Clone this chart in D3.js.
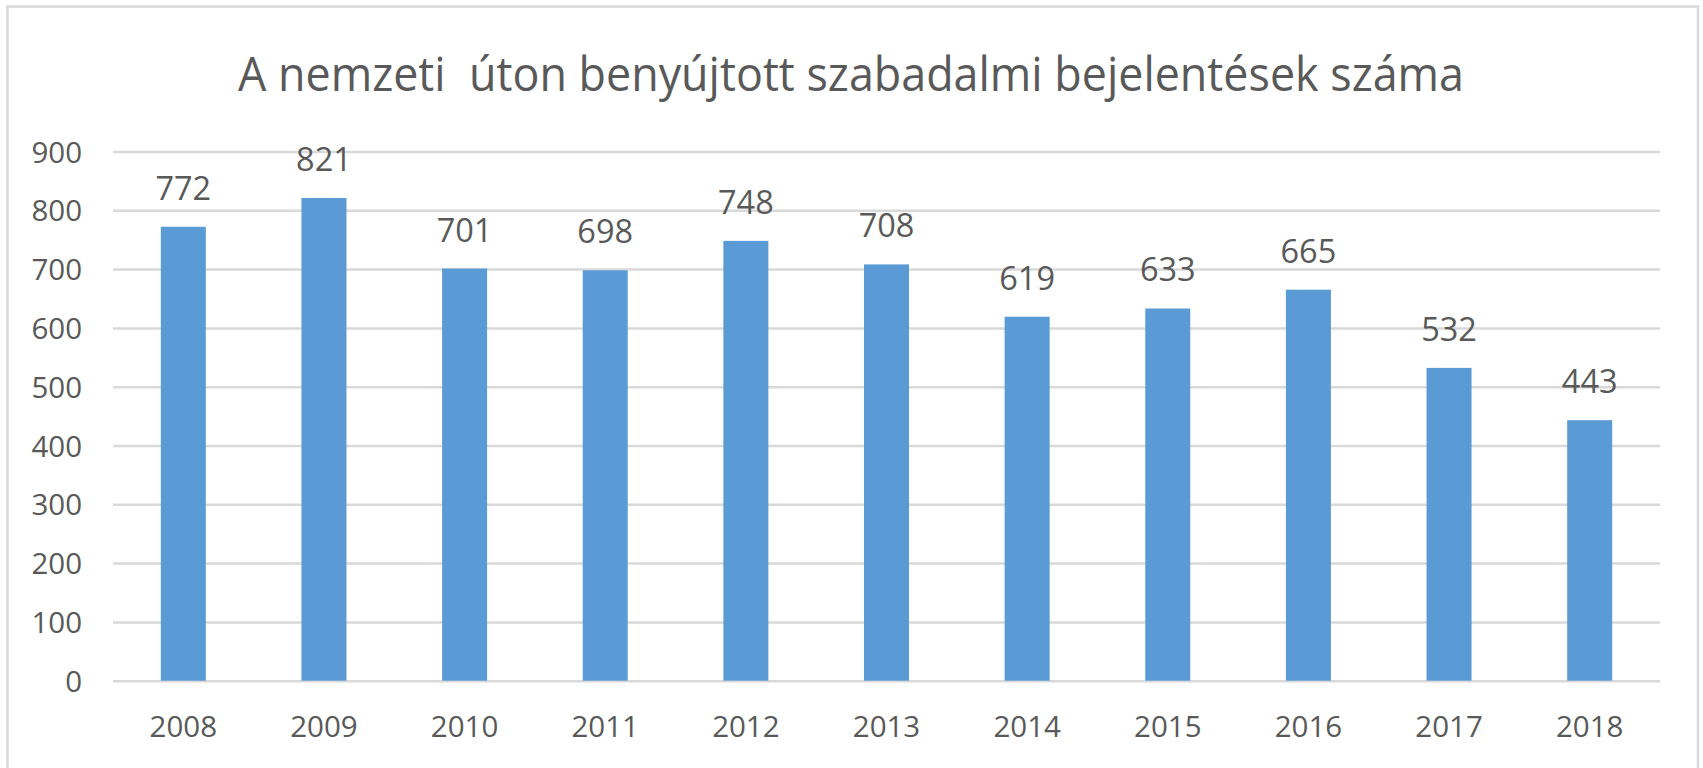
<!DOCTYPE html>
<html>
<head>
<meta charset="utf-8">
<script src="https://cdn.jsdelivr.net/npm/d3@7"></script>
<style>
  html, body { margin: 0; padding: 0; background: #ffffff; }
  svg { display: block; }
</style>
</head>
<body>
<svg id="chart" width="1703" height="768"></svg>
<script>
const years = ["2008","2009","2010","2011","2012","2013","2014","2015","2016","2017","2018"];
const values = [772, 821, 701, 698, 748, 708, 619, 633, 665, 532, 443];
const yTicks = [0, 100, 200, 300, 400, 500, 600, 700, 800, 900];
const title = "A nemzeti  úton benyújtott szabadalmi bejelentések száma";

const W = 1703, H = 768;
const plot = { left: 113, right: 1660, top: 151.5, bottom: 680.7 };
const textColor = "#595959";
const gridColor = "#d9d9d9";
const barColor = "#5b9bd5";
const fontFamily = "'Open Sans', 'Noto Sans', sans-serif";

const svg = d3.select("#chart");

// outer chart border
svg.append("rect")
  .attr("x", 7.5).attr("y", 6.5)
  .attr("width", 1698 - 7.5).attr("height", 800)
  .attr("fill", "#ffffff")
  .attr("stroke", gridColor)
  .attr("stroke-width", 2.5);

const x = d3.scaleBand()
  .domain(years)
  .range([plot.left, plot.right])
  .paddingInner(0.68)
  .paddingOuter(0.34);

const y = d3.scaleLinear()
  .domain([0, 900])
  .range([plot.bottom, plot.top]);

// gridlines + y labels via axis
const yAxis = d3.axisLeft(y)
  .tickValues(yTicks)
  .tickSize(-(plot.right - plot.left))
  .tickPadding(31)
  .tickFormat(d3.format("d"));

const gy = svg.append("g")
  .attr("transform", `translate(${plot.left},0)`)
  .call(yAxis);
gy.select(".domain").remove();
gy.selectAll(".tick line")
  .attr("stroke", gridColor)
  .attr("stroke-width", 2.5);
gy.selectAll(".tick text")
  .attr("fill", textColor)
  .attr("font-family", fontFamily)
  .attr("font-size", 29.5)
  .attr("dy", "0.36em");

// x axis labels
const xAxis = d3.axisBottom(x).tickSize(0).tickPadding(0);
const gx = svg.append("g")
  .attr("transform", `translate(0,${plot.bottom})`)
  .call(xAxis);
gx.select(".domain").remove();
gx.selectAll(".tick text")
  .attr("fill", textColor)
  .attr("font-family", fontFamily)
  .attr("font-size", 29.5)
  .attr("dy", null)
  .attr("y", 56);

// bars
svg.append("g").selectAll("rect")
  .data(values)
  .join("rect")
  .attr("x", (d, i) => x(years[i]))
  .attr("y", d => y(d))
  .attr("width", x.bandwidth())
  .attr("height", d => y(0) - y(d))
  .attr("fill", barColor);

// data labels
svg.append("g").selectAll("text")
  .data(values)
  .join("text")
  .attr("x", (d, i) => x(years[i]) + x.bandwidth() / 2)
  .attr("y", d => y(d) - 27)
  .attr("text-anchor", "middle")
  .attr("fill", textColor)
  .attr("font-family", fontFamily)
  .attr("font-size", 32.5)
  .text(d => d);

// title
svg.append("text")
  .attr("x", 851)
  .attr("y", 90.5)
  .attr("text-anchor", "middle")
  .attr("fill", textColor)
  .attr("font-family", fontFamily)
  .attr("font-size", 48)
  .attr("xml:space", "preserve")
  .style("white-space", "pre")
  .attr("textLength", 1226)
  .attr("lengthAdjust", "spacingAndGlyphs")
  .text(title);
</script>
</body>
</html>
